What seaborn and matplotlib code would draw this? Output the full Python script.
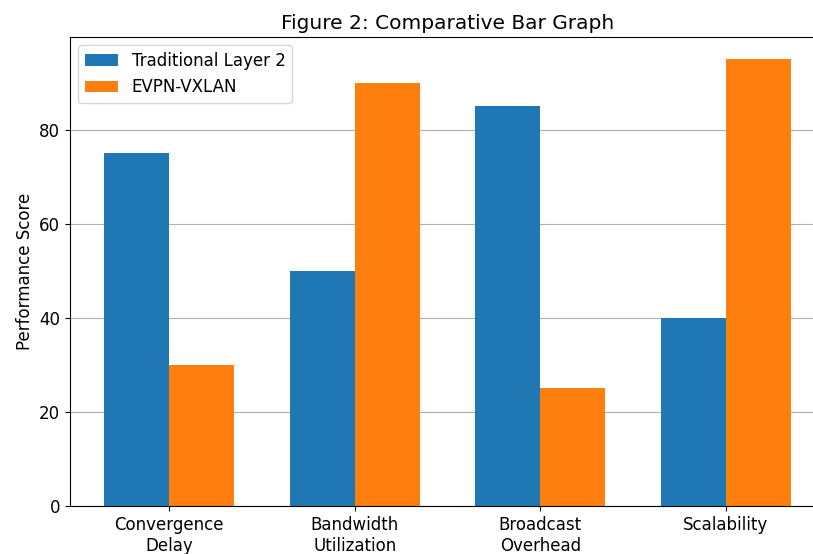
import pandas as pd
import matplotlib
matplotlib.use('Agg')
import matplotlib.pyplot as plt
import seaborn as sns

# Chart data
categories = ["Convergence\nDelay", "Bandwidth\nUtilization", "Broadcast\nOverhead", "Scalability"]
traditional_l2 = [75, 50, 85, 40]
evpn_vxlan = [30, 90, 25, 95]
series_names = ["Traditional Layer 2", "EVPN-VXLAN"]

df = pd.DataFrame({
    "Metric": categories * 2,
    "Score": traditional_l2 + evpn_vxlan,
    "Approach": [series_names[0]] * len(categories) + [series_names[1]] * len(categories),
})

plt.rcParams.update({'font.size': 12})

fig, ax = plt.subplots(figsize=(8.13, 5.54), dpi=100)
# the reference is cropped on the right, so the axes run past the figure edge
fig.subplots_adjust(left=0.0861, right=1.0148, top=0.9332, bottom=0.0866)

sns.barplot(data=df, x="Metric", y="Score", hue="Approach",
            palette=["#1f77b4", "#ff7f0e"], width=0.7, gap=0,
            saturation=1, errorbar=None, ax=ax)

ax.set_xlim(-0.535, 3.535)
ax.set_ylim(0, 99.75)
ax.set_title("Figure 2: Comparative Bar Graph", fontsize=14.5)
ax.set_xlabel("")
ax.set_ylabel("Performance Score")
ax.grid(axis="y")
ax.set_axisbelow(True)
ax.legend(loc="upper left", title=None)

fig.savefig("out.png", dpi=100)
